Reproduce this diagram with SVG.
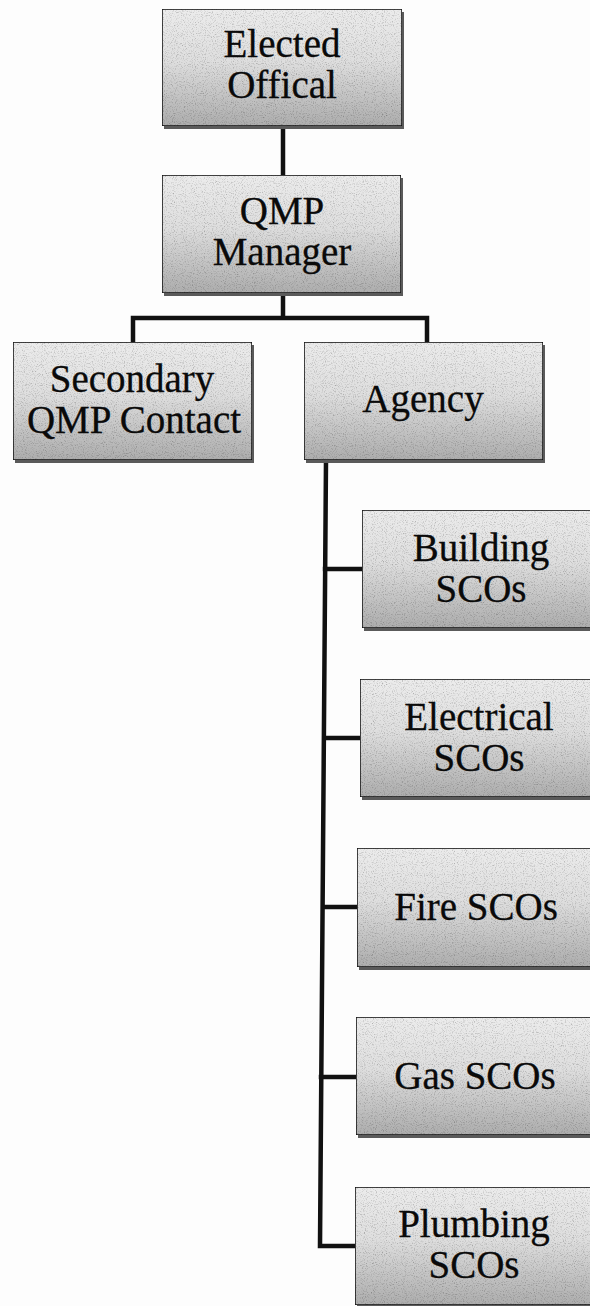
<svg xmlns="http://www.w3.org/2000/svg" width="590" height="1306" viewBox="0 0 590 1306">
<defs>
<linearGradient id="fill" x1="0" y1="0" x2="0" y2="1">
<stop offset="0" stop-color="#ececec"/>
<stop offset="0.45" stop-color="#dedede"/>
<stop offset="1" stop-color="#adadad"/>
</linearGradient>
<filter id="grain" x="0" y="0" width="100%" height="100%">
<feTurbulence type="fractalNoise" baseFrequency="0.9" numOctaves="2" seed="3" result="n"/>
<feColorMatrix in="n" type="matrix" values="0 0 0 0 0  0 0 0 0 0  0 0 0 0 0  0 0 0 -1.2 0.6" result="a"/>
<feComposite in="a" in2="SourceGraphic" operator="in" result="g"/>
<feMerge><feMergeNode in="SourceGraphic"/><feMergeNode in="g"/></feMerge>
</filter>
</defs>
<style>
.box{fill:url(#fill);stroke:#1a1a1a;stroke-width:1.6}
.sh{fill:#5a5a5a}
.t{font-family:"Liberation Serif","Times New Roman",serif;font-size:39px;fill:#0a0a0a;stroke:#0a0a0a;stroke-width:0.3;text-anchor:middle}
.c{fill:none;stroke:#111;stroke-width:4.5;stroke-linejoin:miter;stroke-linecap:square}
</style>
<rect width="590" height="1306" fill="#fdfdfd"/>
<g id="connectors">
<path class="c" d="M283,126 V175"/>
<path class="c" d="M283,293 V318 M133,342 V318 H427 V342"/>
<path class="c" d="M326,460 L320,1246 M325,569 H362 M324,738 H360 M323,907 H357 M321,1077 H356 M320,1246 H355"/>
</g>
<g id="elected">
<rect class="sh" x="164" y="12" width="240" height="117"/>
<rect class="box" x="162" y="9" width="240" height="117" filter="url(#grain)"/>
<text class="t" x="282" y="57">Elected</text>
<text class="t" x="282" y="98">Offical</text>
</g>
<g id="qmp-manager">
<rect class="sh" x="164" y="178" width="239" height="118"/>
<rect class="box" x="162" y="175" width="239" height="118" filter="url(#grain)"/>
<text class="t" x="282" y="224">QMP</text>
<text class="t" x="282" y="265">Manager</text>
</g>
<g id="secondary">
<rect class="sh" x="15" y="345" width="239" height="118"/>
<rect class="box" x="13" y="342" width="239" height="118" filter="url(#grain)"/>
<text class="t" x="132" y="392">Secondary</text>
<text class="t" x="134" y="433">QMP Contact</text>
</g>
<g id="agency">
<rect class="sh" x="306" y="345" width="239" height="118"/>
<rect class="box" x="304" y="342" width="239" height="118" filter="url(#grain)"/>
<text class="t" x="423" y="412">Agency</text>
</g>
<g id="building">
<rect class="sh" x="364" y="513" width="240" height="118"/>
<rect class="box" x="362" y="510" width="240" height="118" filter="url(#grain)"/>
<text class="t" x="481" y="561">Building</text>
<text class="t" x="481" y="602">SCOs</text>
</g>
<g id="electrical">
<rect class="sh" x="362" y="682" width="240" height="118"/>
<rect class="box" x="360" y="679" width="240" height="118" filter="url(#grain)"/>
<text class="t" x="479" y="730">Electrical</text>
<text class="t" x="479" y="771">SCOs</text>
</g>
<g id="fire">
<rect class="sh" x="359" y="851" width="240" height="119"/>
<rect class="box" x="357" y="848" width="240" height="119" filter="url(#grain)"/>
<text class="t" x="476" y="920">Fire SCOs</text>
</g>
<g id="gas">
<rect class="sh" x="358" y="1020" width="240" height="118"/>
<rect class="box" x="356" y="1017" width="240" height="118" filter="url(#grain)"/>
<text class="t" x="475" y="1089">Gas SCOs</text>
</g>
<g id="plumbing">
<rect class="sh" x="357" y="1190" width="240" height="118"/>
<rect class="box" x="355" y="1187" width="240" height="118" filter="url(#grain)"/>
<text class="t" x="474" y="1237">Plumbing</text>
<text class="t" x="474" y="1278">SCOs</text>
</g>
</svg>
